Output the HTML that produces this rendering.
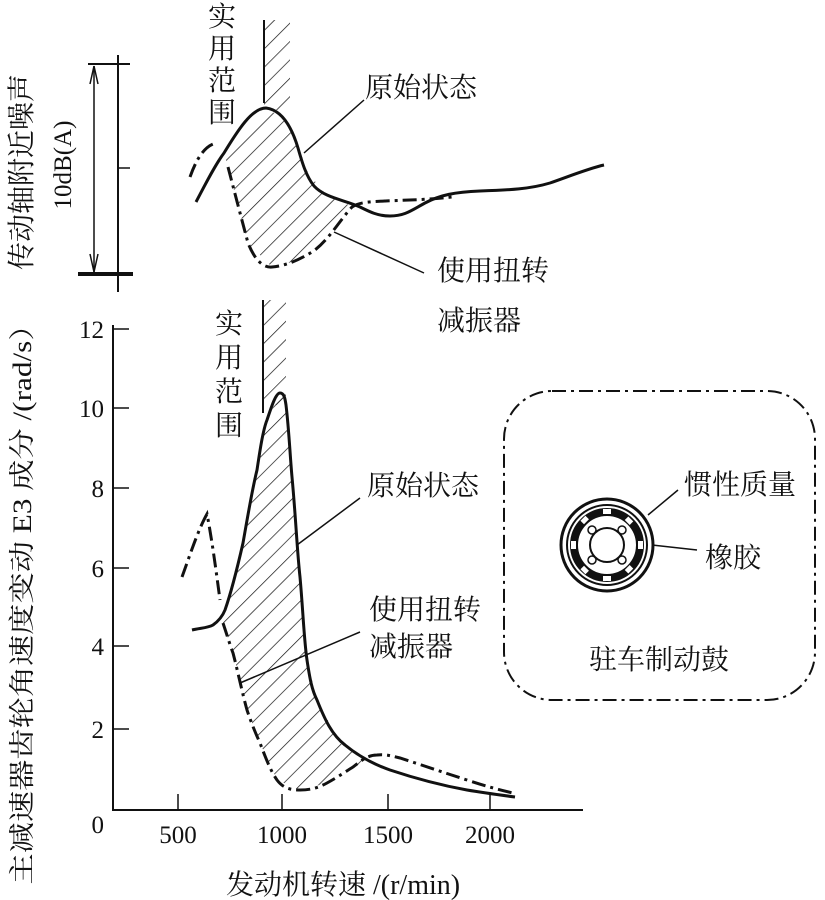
<!DOCTYPE html>
<html><head><meta charset="utf-8">
<style>
html,body{margin:0;padding:0;background:#fff;}
svg{display:block;}
text{font-family:"Liberation Serif","Noto Serif CJK SC","Noto Sans CJK SC",serif;fill:#111;}
</style></head>
<body>
<svg width="825" height="900" viewBox="0 0 825 900" xmlns="http://www.w3.org/2000/svg">
<defs>
<pattern id="h" patternUnits="userSpaceOnUse" width="13" height="13" patternTransform="rotate(45)">
<line x1="0" y1="0" x2="0" y2="13" stroke="#111" stroke-width="1.4"/>
</pattern>
</defs>
<g stroke="#111" fill="none">
<line x1="118" y1="55" x2="118" y2="292" stroke-width="2"/>
<line x1="88" y1="64" x2="130" y2="64" stroke-width="2"/>
<line x1="118" y1="168" x2="130" y2="168" stroke-width="1.5"/>
<line x1="78" y1="274" x2="133" y2="274" stroke-width="4"/>
<line x1="94" y1="66" x2="94" y2="272" stroke-width="1.5"/>
<path d="M94,66 L90,84 M94,66 L98,84 M94,272 L90,254 M94,272 L98,254" stroke-width="1.5"/>
<rect x="264" y="20" width="26" height="90" fill="url(#h)" stroke="none"/>
<line x1="264" y1="20" x2="264" y2="103" stroke-width="2"/>
<path d="M228,167 L240,213 L248,243 L272,267 L300,260 L328,240 L352,207 L340,200 L324,192 L308,173 L296,140 L280,115 L266,110 L245,125 L224,153 Z" fill="url(#h)" stroke="none"/>
<path d="M196,202 C205,185 215,165 224,153 C238,130 252,108 266,108 C282,110 292,128 298,148 C302,162 306,176 314,186 C325,198 345,200 360,207 C370,212 378,216 390,216 C405,216 412,210 425,203 C440,195 455,192 480,191 C510,190 530,189 550,183 C570,176 590,168 604,165" stroke-width="3"/>
<path d="M190,177 C196,160 204,146 216,143" stroke-width="3" stroke-dasharray="14,5,3,5"/>
<path d="M228,167 C234,190 240,213 248,243 C254,258 262,268 272,267 C285,266 300,260 315,250 C330,238 340,220 352,207 C360,202 368,202 385,201 C405,200 425,200 452,197" stroke-width="3" stroke-dasharray="14,5,3,5"/>
<line x1="364" y1="100" x2="304" y2="153" stroke-width="1.5"/>
<line x1="424" y1="273" x2="334" y2="232" stroke-width="1.5"/>

<line x1="113" y1="325" x2="113" y2="811" stroke-width="2"/>
<line x1="112" y1="810" x2="583" y2="810" stroke-width="2"/>
<g stroke-width="1.5">
<line x1="113" y1="329" x2="129" y2="329"/>
<line x1="113" y1="408" x2="129" y2="408"/>
<line x1="113" y1="488" x2="129" y2="488"/>
<line x1="113" y1="568" x2="129" y2="568"/>
<line x1="113" y1="646" x2="129" y2="646"/>
<line x1="113" y1="729" x2="129" y2="729"/>
<line x1="178" y1="810" x2="178" y2="794"/>
<line x1="282" y1="810" x2="282" y2="794"/>
<line x1="388" y1="810" x2="388" y2="794"/>
<line x1="490" y1="810" x2="490" y2="794"/>
</g>
<rect x="263" y="300" width="23" height="105" fill="url(#h)" stroke="none"/>
<line x1="263" y1="300" x2="263" y2="413" stroke-width="2"/>
<path d="M223,623 L233,653 L247,710 L260,743 L277,780 L300,790 L327,783 L353,767 L367,763 L340,743 L317,700 L307,660 L300,577 L292,477 L285,400 L280,393 L267,420 L257,470 L243,543 L225,610 Z" fill="url(#h)" stroke="none"/>
<path d="M192,630 C200,628 208,628 213,625 C220,620 223,615 225,610 C232,590 238,565 243,543 C248,515 252,490 257,470 C260,450 263,430 267,420 C272,405 276,393 280,393 C284,393 285,398 286,405 C289,430 290,455 292,477 C296,520 297,550 300,577 C303,610 304,640 307,660 C310,680 312,690 317,700 C325,720 332,735 345,745 C356,754 370,763 390,770 C420,780 445,786 467,790 C485,793 500,795 515,797" stroke-width="3"/>
<path d="M182,577 C190,555 198,530 207,514 C212,540 216,570 220,600" stroke-width="3" stroke-dasharray="14,5,3,5"/>
<path d="M223,623 C227,635 230,645 233,653 C238,672 242,692 247,710 C251,722 255,732 260,743 C265,756 270,770 277,780 C283,788 290,790 300,790 C310,790 318,788 327,783 C338,777 345,772 353,767 C362,760 368,755 377,755 C385,754 392,756 400,758 C425,766 445,773 467,780 C485,786 500,790 513,793" stroke-width="3" stroke-dasharray="14,5,3,5"/>
<line x1="360" y1="498" x2="297" y2="545" stroke-width="1.5"/>
<line x1="360" y1="632" x2="240" y2="683" stroke-width="1.5"/>

<rect x="504" y="391" width="311" height="309" rx="48" ry="48" stroke-width="2" stroke-dasharray="14,5,3,5"/>
<circle cx="607" cy="545" r="46" stroke-width="3"/>
<circle cx="607" cy="545" r="40" stroke-width="2"/>
<circle cx="607" cy="545" r="33" stroke-width="8"/>
<g stroke="none" fill="#fff">
<rect x="603" y="509" width="8" height="5"/>
<rect x="603" y="576" width="8" height="5"/>
<rect x="571" y="541" width="5" height="8"/>
<rect x="638" y="541" width="5" height="8"/>
<rect x="581" y="518" width="7" height="5" transform="rotate(-45 584 520)"/>
<rect x="626" y="518" width="7" height="5" transform="rotate(45 629 520)"/>
<rect x="581" y="567" width="7" height="5" transform="rotate(45 584 570)"/>
<rect x="626" y="567" width="7" height="5" transform="rotate(-45 629 570)"/>
</g>
<circle cx="607" cy="545" r="17" stroke-width="2"/>
<circle cx="592" cy="530" r="4" stroke-width="1.5"/>
<circle cx="622" cy="530" r="4" stroke-width="1.5"/>
<circle cx="592" cy="560" r="4" stroke-width="1.5"/>
<circle cx="622" cy="560" r="4" stroke-width="1.5"/>
<line x1="648" y1="515" x2="678" y2="490" stroke-width="1.5"/>
<line x1="652" y1="545" x2="697" y2="550" stroke-width="1.5"/>
</g>

<g font-size="28">
<text x="222" y="26" text-anchor="middle">实</text>
<text x="222" y="58" text-anchor="middle">用</text>
<text x="222" y="90" text-anchor="middle">范</text>
<text x="222" y="122" text-anchor="middle">围</text>
<text x="365" y="97">原始状态</text>
<text x="437" y="280">使用扭转</text>
<text x="437" y="330">减振器</text>
<text x="229" y="333" text-anchor="middle">实</text>
<text x="229" y="367" text-anchor="middle">用</text>
<text x="229" y="401" text-anchor="middle">范</text>
<text x="229" y="435" text-anchor="middle">围</text>
<text x="367" y="495">原始状态</text>
<text x="369" y="619">使用扭转</text>
<text x="369" y="656">减振器</text>
<text x="684" y="494">惯性质量</text>
<text x="705" y="567">橡胶</text>
<text x="589" y="669">驻车制动鼓</text>
</g>
<g font-size="25" text-anchor="end">
<text x="104" y="338">12</text>
<text x="104" y="417">10</text>
<text x="104" y="497">8</text>
<text x="104" y="577">6</text>
<text x="104" y="655">4</text>
<text x="104" y="738">2</text>
<text x="104" y="833">0</text>
</g>
<g font-size="25" text-anchor="middle">
<text x="178" y="843">500</text>
<text x="282" y="843">1000</text>
<text x="388" y="843">1500</text>
<text x="490" y="843">2000</text>
</g>
<text x="226" y="894" font-size="28">发动机转速 /(r/min)</text>
<text transform="translate(31,172) rotate(-90)" font-size="28" text-anchor="middle">传动轴附近噪声</text>
<text transform="translate(71,165) rotate(-90)" font-size="25" text-anchor="middle">10dB(A)</text>
<text transform="translate(31,597) rotate(-90)" font-size="26" text-anchor="middle" textLength="575" lengthAdjust="spacingAndGlyphs">主减速器齿轮角速度变动 E3 成分 /(rad/s）</text>
</svg>
</body></html>
